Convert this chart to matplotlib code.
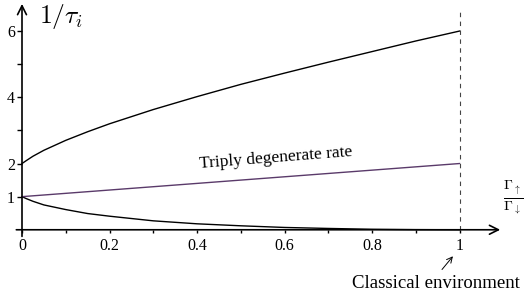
import matplotlib
matplotlib.use("Agg")
import matplotlib.pyplot as plt

plt.rcParams['font.family'] = ['Liberation Serif', 'DejaVu Serif']
plt.rcParams['mathtext.fontset'] = 'cm'

# values
ratio = [0, 0.01, 0.025, 0.05, 0.1, 0.15, 0.2, 0.3, 0.4, 0.5, 0.6, 0.7, 0.8, 0.9, 1.0]
fast_rate = [2.0, 2.09, 2.22, 2.40, 2.70, 2.96, 3.20, 3.63, 4.02, 4.39, 4.73, 5.06, 5.38, 5.70, 6.0]
slow_rate = [1.0, 0.94, 0.86, 0.75, 0.61, 0.49, 0.41, 0.27, 0.18, 0.12, 0.07, 0.04, 0.015, 0.004, 0.0]
degenerate_ratio = [0, 1]
degenerate_rate = [1.0, 2.0]

x_ticks = [0, 0.2, 0.4, 0.6, 0.8, 1]
x_tick_labels = ["0", "0.2", "0.4", "0.6", "0.8", "1"]
x_minor = [0.1, 0.3, 0.5, 0.7, 0.9]
y_ticks = [1, 2, 4, 6]
y_minor = [3, 5]

fig = plt.figure(figsize=(5.26, 2.96), dpi=100)
ax = fig.add_axes([0.02519, 0.19578, 0.93156, 0.79439])
ax.set_xlim(-0.02, 1.1)
ax.set_ylim(-0.25, 6.85)

ax.plot(ratio, fast_rate, color='black', lw=1.0)
ax.plot(ratio, slow_rate, color='black', lw=1.0)
ax.plot(degenerate_ratio, degenerate_rate, color='#5a3a6a', lw=1.0)

# classical environment marker
ax.plot([1, 1], [0, 6.6], color='#444444', lw=0.8, ls=(0, (4, 4)))

# axes with arrow heads
for s in ['top', 'right', 'left', 'bottom']:
    ax.spines[s].set_visible(False)
ax.annotate('', xy=(1.093, 0), xytext=(-0.013, 0),
            arrowprops=dict(arrowstyle='->', lw=1.2, color='black', mutation_scale=16,
                            shrinkA=0, shrinkB=0))
ax.annotate('', xy=(0, 6.82), xytext=(0, -0.2),
            arrowprops=dict(arrowstyle='->', lw=1.2, color='black', mutation_scale=16,
                            shrinkA=0, shrinkB=0))

ax.xaxis.set_ticks_position('bottom')
ax.yaxis.set_ticks_position('left')
ax.spines['left'].set_position(('data', 0))
ax.spines['bottom'].set_position(('data', 0))
ax.set_xticks(x_ticks)
ax.set_xticklabels(x_tick_labels)
ax.set_xticks(x_minor, minor=True)
ax.set_yticks(y_ticks)
ax.set_yticks(y_minor, minor=True)
ax.tick_params(axis='x', which='both', direction='out', length=2.5, width=1.0, labelsize=11.5, pad=3.5)
ax.tick_params(axis='y', which='both', direction='out', length=3.6, width=1.0, labelsize=11.5, pad=1.5)

ax.text(0.04, 6.45, r'$1/\tau_i$', fontsize=18.5, ha='left', va='center')
ax.text(1.122, 0.98, r'$\frac{\Gamma_\uparrow}{\Gamma_\downarrow}$', fontsize=14.5,
        ha='center', va='center')
ax.text(0.58, 2.17, 'Triply degenerate rate', fontsize=12.5, ha='center', va='center',
        rotation=4.5, rotation_mode='anchor')
ax.annotate('', xy=(0.985, -0.8), xytext=(0.96, -1.2), annotation_clip=False,
            arrowprops=dict(arrowstyle='->', lw=0.7, color='black', shrinkA=0, shrinkB=0))
ax.text(0.947, -1.62, 'Classical environment', fontsize=13.5, ha='center', va='center',
        clip_on=False)

plt.savefig("out.png", dpi=100)
